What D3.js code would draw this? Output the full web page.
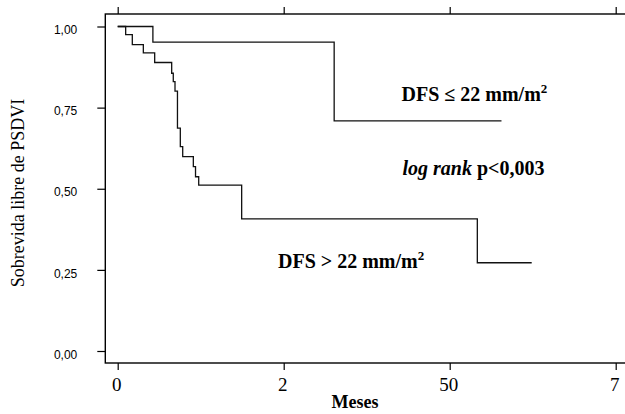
<!DOCTYPE html>
<html>
<head>
<meta charset="utf-8">
<script src="https://cdn.jsdelivr.net/npm/d3@7"></script>
<style>
  body { margin: 0; background: #fff; }
  svg { display: block; }
  .ylab { font-family: "Liberation Sans", Arial, sans-serif; font-size: 12px; }
  .serif { font-family: "Liberation Serif", "Times New Roman", serif; }
</style>
</head>
<body>
<div id="chart"></div>
<script>
var width = 625,
    height = 414;

// group DFS <= 22 mm/m2 (months, survival)
var lowTimes = [0, 5.3, 32.6, 57.8];
var lowSurv = [1.0, 0.952, 0.709, 0.709];

// group DFS > 22 mm/m2
var highTimes = [0, 1.2, 2.2, 3.86, 5.57, 8.13, 8.37, 8.63, 9.0, 9.43, 9.79, 11.39, 11.72, 12.2, 18.67, 54.16, 62.35];
var highSurv = [1.0, 0.975, 0.944, 0.919, 0.889, 0.856, 0.830, 0.801, 0.687, 0.630, 0.599, 0.568, 0.537, 0.511, 0.407, 0.272, 0.272];

var xTickVals = [0, 25, 50, 75];
var xTickLabels = ["0", "2", "50", "7"];
var yTickVals = [0, 0.25, 0.5, 0.75, 1];
var yTickLabels = ["0,00", "0,25", "0,50", "0,75", "1,00"];

var x = d3.scaleLinear().domain([0, 75]).range([117.7, 615.7]);
var y = d3.scaleLinear().domain([0, 1]).range([351, 26.5]);

var frame = { left: 105.3, top: 14, right: 660, bottom: 363 };

var svg = d3.select("#chart").append("svg")
    .attr("width", width)
    .attr("height", height);

svg.append("rect").attr("width", width).attr("height", height).attr("fill", "#fff");

// frame
svg.append("rect")
    .attr("x", frame.left).attr("y", frame.top)
    .attr("width", frame.right - frame.left)
    .attr("height", frame.bottom - frame.top)
    .attr("fill", "none").attr("stroke", "#000").attr("stroke-width", 1.4);

// bottom axis
var xAxis = d3.axisBottom(x).tickValues(xTickVals)
    .tickSize(7).tickPadding(4)
    .tickFormat(function(d, i) { return xTickLabels[i]; });
var gx = svg.append("g").attr("transform", "translate(0," + frame.bottom + ")").call(xAxis);
gx.select(".domain").remove();
gx.selectAll("line").attr("stroke", "#000").attr("stroke-width", 1.2);
gx.selectAll("text").attr("class", "serif").style("font-size", "19px").attr("fill", "#000")
    .attr("dy", "0.9em").attr("dx", -1.5);

// top ticks
var gt = svg.append("g").attr("transform", "translate(0," + frame.top + ")")
    .call(d3.axisTop(x).tickValues(xTickVals).tickSize(7).tickFormat(""));
gt.select(".domain").remove();
gt.selectAll("line").attr("stroke", "#000").attr("stroke-width", 1.2);

// left axis
var yAxis = d3.axisLeft(y).tickValues(yTickVals)
    .tickSize(8).tickPadding(20)
    .tickFormat(function(d, i) { return yTickLabels[i]; });
var gy = svg.append("g").attr("transform", "translate(" + frame.left + ",0)").call(yAxis);
gy.select(".domain").remove();
gy.selectAll("line").attr("stroke", "#000").attr("stroke-width", 1.2);
gy.selectAll("text").attr("class", "ylab").attr("fill", "#000").attr("dy", "0.6em");

// curves
var line = d3.line()
    .x(function(d) { return x(d[0]); })
    .y(function(d) { return y(d[1]); })
    .curve(d3.curveStepAfter);

svg.append("path")
    .datum(d3.zip(highTimes, highSurv))
    .attr("d", line)
    .attr("fill", "none").attr("stroke", "#111").attr("stroke-width", 1.3);

svg.append("path")
    .datum(d3.zip(lowTimes, lowSurv))
    .attr("d", line)
    .attr("fill", "none").attr("stroke", "#111").attr("stroke-width", 1.3);

// annotations
var t1 = svg.append("text").attr("class", "serif")
    .attr("x", 401.5).attr("y", 100.7)
    .style("font-size", "20px").style("font-weight", "bold");
t1.append("tspan").text("DFS \u2264 22 mm/m");
t1.append("tspan").attr("dy", -8).style("font-size", "13px").text("2");

var t2 = svg.append("text").attr("class", "serif")
    .attr("x", 402.5).attr("y", 175)
    .style("font-size", "20px").style("font-weight", "bold");
t2.append("tspan").style("font-style", "italic").text("log rank");
t2.append("tspan").text(" p<0,003");

var t3 = svg.append("text").attr("class", "serif")
    .attr("x", 278).attr("y", 267.7)
    .style("font-size", "20px").style("font-weight", "bold");
t3.append("tspan").text("DFS > 22 mm/m");
t3.append("tspan").attr("dy", -8).style("font-size", "13px").text("2");

// axis titles
svg.append("text").attr("class", "serif")
    .attr("x", 355).attr("y", 408.3)
    .attr("text-anchor", "middle")
    .style("font-size", "18px").style("font-weight", "bold")
    .text("Meses");

svg.append("text").attr("class", "serif")
    .attr("transform", "translate(24,193) rotate(-90)")
    .attr("text-anchor", "middle")
    .style("font-size", "18px")
    .text("Sobrevida libre de PSDVI");
</script>
</body>
</html>
